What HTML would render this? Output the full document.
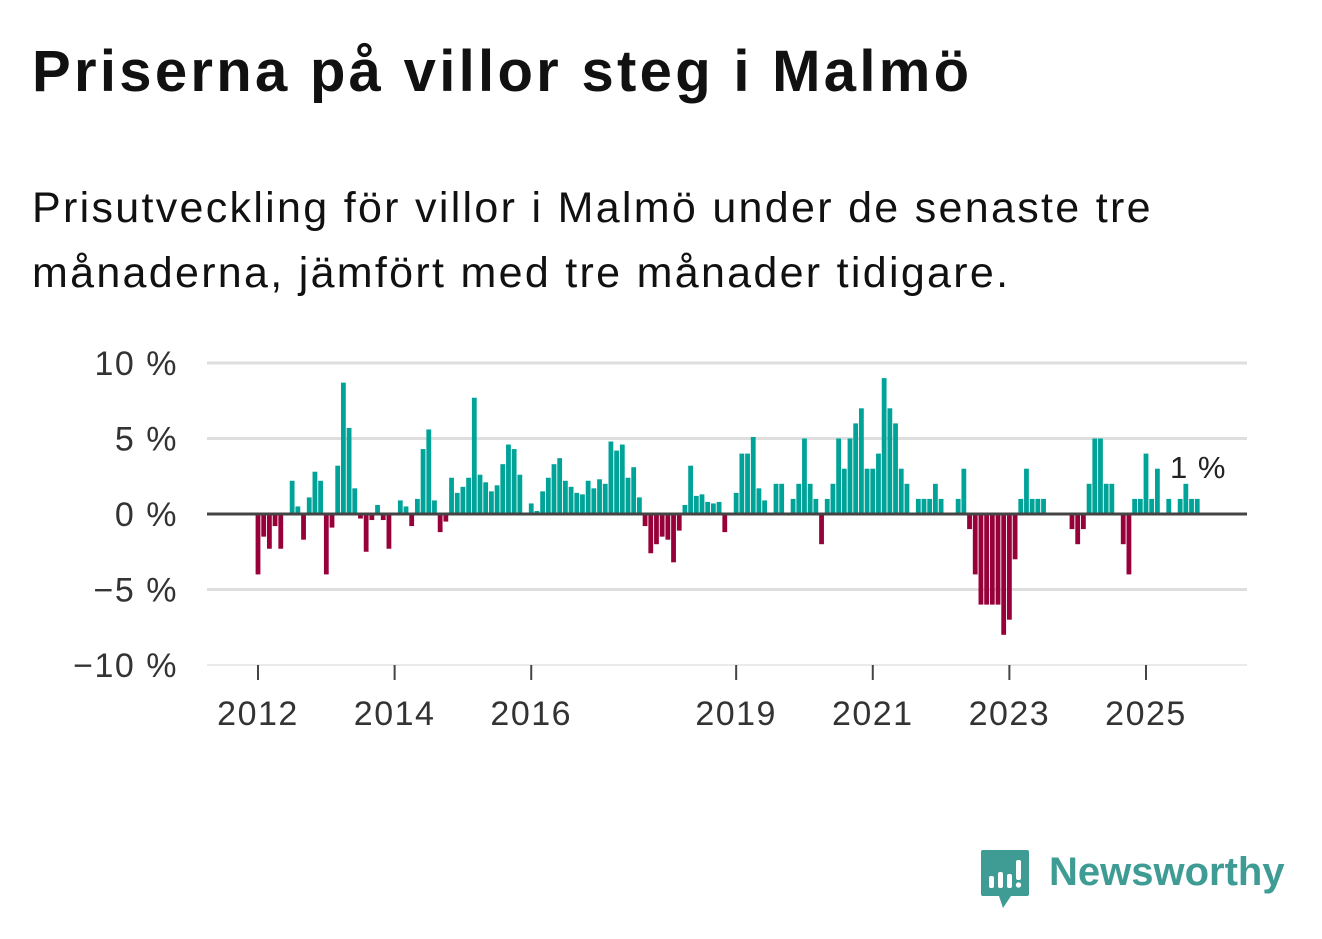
<!DOCTYPE html>
<html><head><meta charset="utf-8">
<style>
body{margin:0;width:1322px;height:939px;background:#fff;font-family:"Liberation Sans",sans-serif;overflow:hidden;position:relative}
#title{position:absolute;left:32px;top:38px;font-size:58px;letter-spacing:3.3px;font-weight:bold;color:#111;margin:0;white-space:nowrap}
#sub{position:absolute;left:32px;top:176px;font-size:43px;letter-spacing:2.3px;line-height:65px;color:#111;width:1290px;white-space:nowrap}
svg{position:absolute;left:0;top:0}
</style></head><body>
<h1 id="title">Priserna på villor steg i Malmö</h1>
<div id="sub">Prisutveckling för villor i Malmö under de senaste tre<br>månaderna, jämfört med tre månader tidigare.</div>
<svg id="chart" width="1322" height="939"></svg>
<div style="position:absolute;left:981px;top:850px;">
<svg width="50" height="60" style="position:absolute;left:0;top:0">
<path d="M2 0 H46 a2 2 0 0 1 2 2 V44 a2 2 0 0 1 -2 2 H30 L22 58 L18 46 H2 a2 2 0 0 1 -2 -2 V2 a2 2 0 0 1 2 -2Z" fill="#3e9c94"/>
<rect x="8" y="26" width="5" height="12" rx="2" fill="#fff"/><rect x="17" y="22" width="5" height="16" rx="2" fill="#fff"/><rect x="26" y="24" width="5" height="14" rx="2" fill="#fff"/><rect x="35" y="10" width="5" height="20" rx="2" fill="#fff"/><circle cx="37.5" cy="35" r="2.7" fill="#fff"/>
</svg>
<span style="position:absolute;left:68px;top:0px;font-size:40px;color:#3e9c94;font-weight:bold;white-space:nowrap">Newsworthy</span>
</div>
<script>
const values=[-4,-1.5,-2.3,-0.8,-2.3,0,2.2,0.5,-1.7,1.1,2.8,2.2,-4,-0.9,3.2,8.7,5.7,1.7,-0.3,-2.5,-0.4,0.6,-0.4,-2.3,0,0.9,0.5,-0.8,1,4.3,5.6,0.9,-1.2,-0.5,2.4,1.4,1.8,2.4,7.7,2.6,2.1,1.5,1.9,3.3,4.6,4.3,2.6,0,0.7,0.2,1.5,2.4,3.3,3.7,2.2,1.8,1.4,1.3,2.2,1.7,2.3,2.0,4.8,4.2,4.6,2.4,3.1,1.1,-0.8,-2.6,-2.0,-1.5,-1.7,-3.2,-1.1,0.6,3.2,1.2,1.3,0.8,0.7,0.8,-1.2,0,1.4,4,4,5.1,1.7,0.9,0,2,2,0,1,2,5,2,1,-2,1,2,5,3,5,6,7,3,3,4,9,7,6,3,2,0,1,1,1,2,1,0,0,1,3,-1,-4,-6,-6,-6,-6,-8,-7,-3,1,3,1,1,1,0,0,0,0,-1,-2,-1,2,5,5,2,2,0,-2,-4,1,1,4,1,3,0,1,0,1,2,1,1];
const yTicks=[10,5,0,-5,-10];
const yTickLabels=["10 %","5 %","0 %","\u22125 %","\u221210 %"];
const xYears=[2012,2014,2016,2019,2021,2023,2025];
const startYear=2012;
const lastLabel="1 %";
const NS="http://www.w3.org/2000/svg";
const svg=document.getElementById('chart');
const y=v=>514-v*15.1;
const x=m=>258+m*(1146-258)/156;
function el(t,a){const e=document.createElementNS(NS,t);for(const k in a)e.setAttribute(k,a[k]);svg.appendChild(e);return e;}
yTicks.forEach((t,i)=>{
 const g=el('line',{x1:207,x2:1247,y1:y(t),y2:y(t),stroke:t===-10?'#e4e4e4':'#dedede','stroke-width':t===-10?1.5:3});
 
 
 const l=el('text',{x:178,y:y(t)+12,'text-anchor':'end','font-size':34,'letter-spacing':1.5,fill:'#333','font-family':'Liberation Sans, sans-serif'});
 l.textContent=yTickLabels[i];
 
 
});
values.forEach((v,m)=>{
 if(v===0)return;
 const r=el('rect',{x:x(m)-2.4,width:4.8,y:v>0?y(v):y(0),height:Math.abs(y(v)-y(0)),fill:v>0?'#00a398':'#970038'});
 
 
});
const z=el('line',{x1:207,x2:1247,y1:y(0),y2:y(0),stroke:'#444','stroke-width':3});


xYears.forEach(yr=>{
 const px=x((yr-startYear)*12);
 const t=el('line',{x1:px,x2:px,y1:665,y2:680,stroke:'#444','stroke-width':2});
 
 
 const l=el('text',{x:px,y:725,'text-anchor':'middle','font-size':34,'letter-spacing':1.5,fill:'#333','font-family':'Liberation Sans, sans-serif'});
 l.textContent=yr;
 
 
});
const last=values.length-1;
const ann=el('text',{x:x(last)+1,y:y(values[last])-21,'text-anchor':'middle','font-size':31,'letter-spacing':1,fill:'#222','font-family':'Liberation Sans, sans-serif'});
ann.textContent=lastLabel;


</script>
</body></html>
